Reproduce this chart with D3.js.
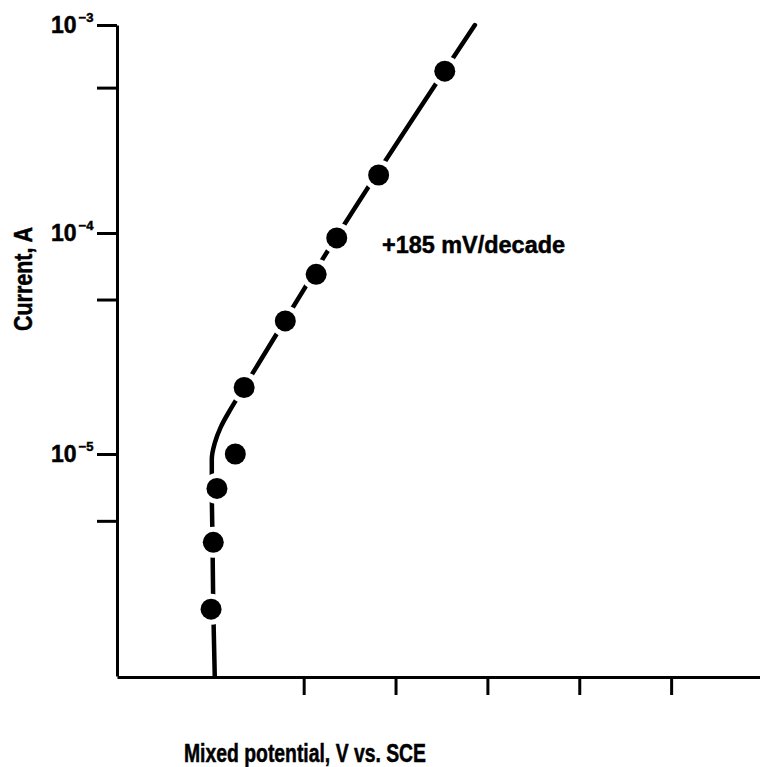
<!DOCTYPE html>
<html>
<head>
<meta charset="utf-8">
<script src="https://cdn.jsdelivr.net/npm/d3@7"></script>
<style>
  html, body { margin: 0; padding: 0; background: #fff; }
  svg { display: block; }
  text { font-family: "Liberation Sans", Arial, Helvetica, sans-serif; font-weight: bold; fill: #000; stroke: #000; stroke-width: 0.5px; }
</style>
</head>
<body>
<svg id="chart" width="760" height="767"></svg>
<script>
// Measured points: mixed potential (V vs. SCE) and current (A)
const potential = [0.124, 0.127, 0.132, 0.157, 0.169, 0.225, 0.267, 0.295, 0.352, 0.442];
const current   = [2e-6, 4e-6, 7e-6, 1e-5, 2e-5, 4e-5, 6.5e-5, 9.5e-5, 1.9e-4, 6e-4];

// Low-current part of the fitted curve, where it bends away from the Tafel line
const bendCurrent   = [1e-6, 2e-6, 4e-6, 7e-6, 9.5e-6, 1.12e-5, 1.32e-5];
const bendPotential = [0.129, 0.127, 0.126, 0.125, 0.125, 0.129, 0.137];

// Tafel region: +185 mV per decade of current
const tafelSlope = 0.185;          // V/decade
const tafelRefCurrent = 1e-4;      // A
const tafelRefPotential = 0.298;   // V at the reference current
const tafelCurrent = [1.6e-5, 2e-5, 1e-4, 1e-3];

// Axis ticks
const yMajorTicks = [1e-3, 1e-4, 1e-5];
const yMajorExponents = ["\u22123", "\u22124", "\u22125"];
const yMinorTicks = [5e-4, 5e-5, 5e-6];
const xTicks = [0.25, 0.375, 0.5, 0.625, 0.75];

const svg = d3.select("#chart");

const x = d3.scaleLinear().domain([-0.004, 0.875]).range([117, 763]);
const y = d3.scaleLog().domain([1e-6, 1e-5, 1e-4, 1e-3]).range([676, 454, 233, 25]);

// Axes
const yAxis = d3.axisLeft(y)
  .tickValues(yMajorTicks.concat(yMinorTicks))
  .tickSize(20).tickSizeOuter(0).tickFormat("");
const gy = svg.append("g").attr("transform", "translate(117,0)").call(yAxis);

const xAxis = d3.axisBottom(x)
  .tickValues(xTicks)
  .tickSize(18).tickSizeOuter(0).tickFormat("");
const gx = svg.append("g").attr("transform", "translate(0,677)").call(xAxis);

[gy, gx].forEach(g => {
  g.select(".domain").attr("stroke", "#000").attr("stroke-width", 3);
  g.selectAll(".tick line").attr("stroke", "#000").attr("stroke-width", 3);
});

// Decade labels 10^n
yMajorTicks.forEach((v, i) => {
  const t = svg.append("text")
    .attr("x", 51).attr("y", y(v) + 8)
    .attr("font-size", 23);
  t.append("tspan").text("10");
  t.append("tspan")
    .attr("font-size", 13)
    .attr("dy", -11)
    .attr("dx", 2)
    .text(yMajorExponents[i]);
});

// Fitted curve: bend region followed by the Tafel line
const tafelPotential = tafelCurrent.map(c => tafelRefPotential + tafelSlope * Math.log10(c / tafelRefCurrent));
const curvePts = bendCurrent.map((c, i) => [bendPotential[i], c])
  .concat(tafelCurrent.map((c, i) => [tafelPotential[i], c]));

const line = d3.line()
  .x(d => x(d[0]))
  .y(d => y(d[1]))
  .curve(d3.curveMonotoneY);

svg.append("path")
  .datum(curvePts)
  .attr("d", line)
  .attr("fill", "none")
  .attr("stroke", "#000")
  .attr("stroke-width", 4.5)
  .attr("stroke-linecap", "round");

// Data points with a white halo that breaks the line around each dot
const pts = potential.map((p, i) => [p, current[i]]);
svg.append("g").selectAll("circle.halo")
  .data(pts).join("circle")
  .attr("class", "halo")
  .attr("cx", d => x(d[0])).attr("cy", d => y(d[1]))
  .attr("r", 15.5).attr("fill", "#fff");
svg.append("g").selectAll("circle.dot")
  .data(pts).join("circle")
  .attr("class", "dot")
  .attr("cx", d => x(d[0])).attr("cy", d => y(d[1]))
  .attr("r", 10.5).attr("fill", "#000");

// Slope annotation
svg.append("text")
  .attr("x", 382).attr("y", 253)
  .attr("font-size", 24)
  .attr("textLength", 183)
  .attr("lengthAdjust", "spacingAndGlyphs")
  .text("+185 mV/decade");

// Axis titles
svg.append("text")
  .attr("transform", "translate(32,279) rotate(-90)")
  .attr("text-anchor", "middle")
  .attr("font-size", 25)
  .attr("textLength", 104)
  .attr("lengthAdjust", "spacingAndGlyphs")
  .text("Current, A");

svg.append("text")
  .attr("x", 305).attr("y", 762)
  .attr("text-anchor", "middle")
  .attr("font-size", 25)
  .attr("textLength", 242)
  .attr("lengthAdjust", "spacingAndGlyphs")
  .text("Mixed potential, V vs. SCE");
</script>
</body>
</html>
